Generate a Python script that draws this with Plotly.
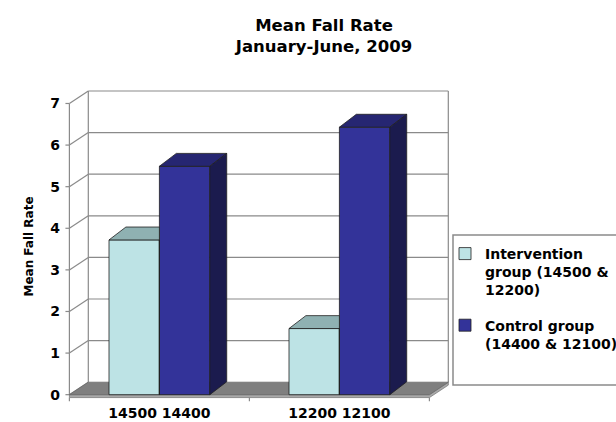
import plotly.graph_objects as go

# ---------------- data ----------------
categories = ["14500 14400", "12200 12100"]
series_names = ["Intervention<br>group (14500 &<br>12200)", "Control group<br>(14400 & 12100)"]
intervention_values = [3.72, 1.59]
control_values = [5.49, 6.43]
y_tick_values = [0, 1, 2, 3, 4, 5, 6, 7]
chart_title = "Mean Fall Rate<br>January-June, 2009"
y_axis_title = "Mean Fall Rate"

# ---------------- style ----------------
series_values = [intervention_values, control_values]
front_colors = ["#bde3e5", "#333399"]
top_colors = ["#8fb1b2", "#262672"]
side_colors = ["#6f9394", "#1b1b4e"]
edge_color = "#202020"
wall_line = "#8a8a8a"

BAR_W = 0.28
offsets = [-BAR_W, 0.0]
BAR_DX, BAR_DY = 0.094, 0.31
WALL_DX, WALL_DY = 0.105, 0.30
SLAB = 0.07

xs = list(range(len(categories)))
X_FRONT = (xs[0] - 0.5, xs[-1] + 0.5)
Y_TOP = max(y_tick_values)

fig = go.Figure()

# front faces of the bars
for i, (name, vals) in enumerate(zip(series_names, series_values)):
    fig.add_trace(go.Bar(
        x=xs, y=vals, width=BAR_W, offset=offsets[i], name=name,
        legendgroup=f"g{i}",
        marker=dict(color=front_colors[i], line=dict(color=edge_color, width=0.8)),
        hoverinfo="skip",
    ))


def clip_left_of(poly, xc):
    out = []
    n = len(poly)
    for k in range(n):
        p = poly[k]
        q = poly[(k + 1) % n]
        pin = p[0] <= xc + 1e-9
        qin = q[0] <= xc + 1e-9
        if pin:
            out.append(p)
        if pin != qin:
            t = (xc - p[0]) / (q[0] - p[0])
            out.append((xc, p[1] + t * (q[1] - p[1])))
    return out


def add_face(poly, color):
    if len(poly) < 3:
        return
    px = [p[0] for p in poly] + [poly[0][0]]
    py = [p[1] for p in poly] + [poly[0][1]]
    fig.add_trace(go.Scatter(
        x=px, y=py, mode="lines", fill="toself", fillcolor=color,
        line=dict(color=edge_color, width=0.8), showlegend=False,
        hoverinfo="skip",
    ))


# 3-D top and side faces derived from the values
for j, xc in enumerate(xs):
    for i, vals in enumerate(series_values):
        v = vals[j]
        xl = xc + offsets[i]
        xr = xl + BAR_W
        top = [(xl, v), (xr, v), (xr + BAR_DX, v + BAR_DY), (xl + BAR_DX, v + BAR_DY)]
        side = [(xr, 0), (xr + BAR_DX, BAR_DY), (xr + BAR_DX, v + BAR_DY), (xr, v)]
        if i + 1 < len(series_values):
            nv = series_values[i + 1][j]
            if nv >= v + BAR_DY and abs(xc + offsets[i + 1] - xr) < 1e-9:
                top = clip_left_of(top, xr)
                side = clip_left_of(side, xr)
        add_face(top, top_colors[i])
        add_face(side, side_colors[i])

# ---------------- walls, floor, grid (chart furniture) ----------------
shapes = []
xb0 = X_FRONT[0] + WALL_DX
xb1 = X_FRONT[1] + WALL_DX
gl = dict(color=wall_line, width=1.2)
for v in y_tick_values:
    shapes.append(dict(type="line", xref="x", yref="y", layer="below",
                       x0=X_FRONT[0], y0=v, x1=xb0, y1=v + WALL_DY, line=gl))
    if v > 0:
        shapes.append(dict(type="line", xref="x", yref="y", layer="below",
                           x0=xb0, y0=v + WALL_DY, x1=xb1, y1=v + WALL_DY, line=gl))
    # y tick marks on the front axis
    shapes.append(dict(type="line", xref="x", yref="y", layer="below",
                       x0=X_FRONT[0] - 0.022, y0=v, x1=X_FRONT[0], y1=v, line=gl))
shapes.append(dict(type="line", xref="x", yref="y", layer="below",
                   x0=xb0, y0=WALL_DY, x1=xb0, y1=Y_TOP + WALL_DY, line=gl))
shapes.append(dict(type="line", xref="x", yref="y", layer="below",
                   x0=xb1, y0=WALL_DY, x1=xb1, y1=Y_TOP + WALL_DY, line=gl))
shapes.append(dict(type="line", xref="x", yref="y", layer="below",
                   x0=X_FRONT[0], y0=0, x1=X_FRONT[0], y1=Y_TOP, line=gl))
# floor slab
shapes.append(dict(type="path", xref="x", yref="y", layer="below",
                   path=f"M{X_FRONT[0]},{-SLAB} L{X_FRONT[1]},{-SLAB} L{xb1},{WALL_DY - SLAB} "
                        f"L{xb1},{WALL_DY} L{X_FRONT[1]},0 L{X_FRONT[0]},0 Z",
                   fillcolor="#a9a9a9", line=dict(color="#7a7a7a", width=0.8)))
# floor top
shapes.append(dict(type="path", xref="x", yref="y", layer="below",
                   path=f"M{X_FRONT[0]},0 L{X_FRONT[1]},0 L{xb1},{WALL_DY} L{xb0},{WALL_DY} Z",
                   fillcolor="#7f7f7f", line=dict(color="#6a6a6a", width=0.8)))
# category boundary ticks under floor
for xt in [X_FRONT[0]] + [x + 0.5 for x in xs]:
    shapes.append(dict(type="line", xref="x", yref="y", layer="below",
                       x0=xt, y0=-SLAB, x1=xt, y1=-SLAB - 0.09, line=gl))

# legend box
shapes.append(dict(type="rect", xref="paper", yref="paper", layer="below",
                   x0=(453 - 64) / 387, x1=1.6, y0=(403 - 385) / 313, y1=(403 - 235) / 313,
                   line=dict(color="#8a8a8a", width=1.5), fillcolor="white"))

fig.update_layout(
    width=616, height=422,
    margin=dict(l=64, r=165, t=90, b=19, autoexpand=False),
    paper_bgcolor="white", plot_bgcolor="white",
    font=dict(family="DejaVu Sans", size=14, color="black", weight="bold"),
    title=dict(text=chart_title, x=324 / 616, xanchor="center", xref="container",
               y=1 - 31 / 422, yanchor="top", yref="container",
               font=dict(size=16.5, family="DejaVu Sans", weight="bold")),
    xaxis=dict(range=[-0.53, 1.62], tickvals=xs, ticktext=categories, showgrid=False,
               zeroline=False, showline=False, ticks="", fixedrange=True),
    yaxis=dict(range=[-0.2, 7.324], tickvals=y_tick_values, showgrid=False,
               zeroline=False, showline=False, ticks="", ticklabelstandoff=3,
               fixedrange=True,
               title=dict(text=y_axis_title, font=dict(size=12), standoff=14)),
    barmode="overlay",
    showlegend=True,
    legend=dict(x=(445 - 64) / 387, xanchor="left", y=(403 - 238) / 313, yanchor="top",
                bgcolor="rgba(0,0,0,0)", borderwidth=0, valign="top",
                tracegroupgap=14, font=dict(size=14)),
    shapes=shapes,
)

fig.write_html("out.html")
